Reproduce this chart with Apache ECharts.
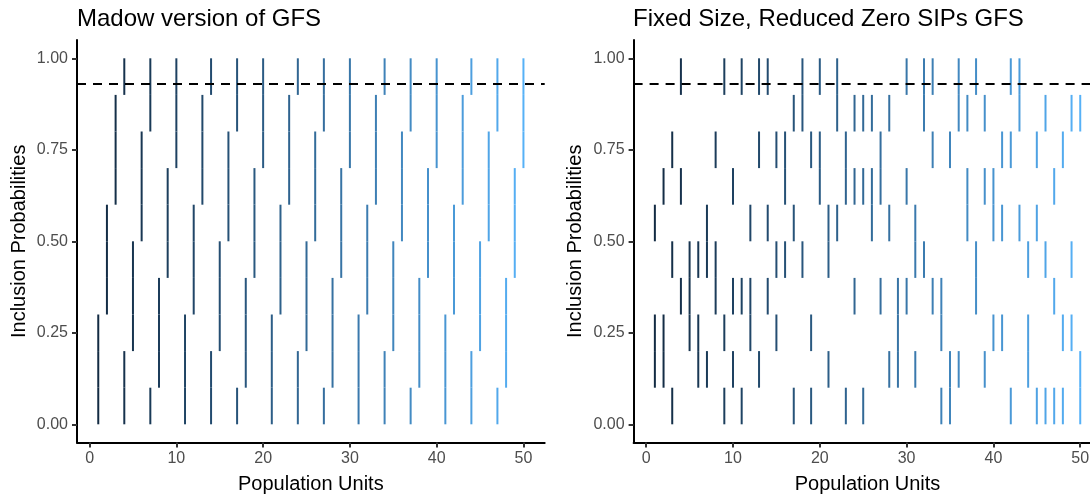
<!DOCTYPE html>
<html>
<head>
<meta charset="utf-8">
<script src="https://cdn.jsdelivr.net/npm/echarts@6/dist/echarts.min.js"></script>
<style>
  html, body { margin: 0; padding: 0; background: #ffffff; }
  #chart { width: 1090px; height: 494px; }
</style>
</head>
<body>
<div id="chart"></div>
<script>
// ---- Data ----
const panelTitles = ["Madow version of GFS", "Fixed Size, Reduced Zero SIPs GFS"];
const xTicks = [0, 10, 20, 30, 40, 50];
const yTicks = [0, 0.25, 0.5, 0.75, 1];
const bandEdges = [0, 0.1, 0.2, 0.3, 0.4, 0.5, 0.6, 0.7, 0.8, 0.9, 1.0];
const thresholdU = 0.929;

// Units covering each 0.1-wide band of [0,1] (band i = [bandEdges[i], bandEdges[i+1]])
const madowBands = [
  [1,4,7,11,14,17,21,24,27,31,34,37,41,44,47],
  [1,4,8,11,14,18,21,24,28,31,34,38,41,44,48],
  [1,5,8,11,15,18,21,25,28,31,35,38,41,45,48],
  [2,5,8,12,15,18,22,25,28,32,35,38,42,45,48],
  [2,5,9,12,15,19,22,25,29,32,35,39,42,45,49],
  [2,6,9,12,16,19,22,26,29,32,36,39,42,46,49],
  [3,6,9,13,16,19,23,26,29,33,36,39,43,46,49],
  [3,6,10,13,16,20,23,26,30,33,36,40,43,46,50],
  [3,7,10,13,17,20,23,27,30,33,37,40,43,47,50],
  [4,7,10,14,17,20,24,27,30,34,37,40,44,47,50]
];
const fixedBands = [
  [3,9,11,17,19,23,25,34,35,42,45,46,47,48,50],
  [1,2,6,7,10,13,21,28,29,31,35,36,39,44,50],
  [1,2,5,6,9,12,15,19,29,34,40,41,44,48,49],
  [4,5,8,10,11,12,14,24,27,29,30,33,34,38,47],
  [3,5,6,7,8,15,16,18,21,31,32,38,44,46,49],
  [1,7,12,14,17,21,22,26,28,31,37,40,41,43,45],
  [2,4,10,16,20,23,24,25,26,27,30,37,39,40,47],
  [3,8,13,15,16,19,20,23,27,33,35,41,42,45,48],
  [17,18,22,24,25,26,28,32,36,37,39,43,46,49,50],
  [4,9,11,13,14,18,20,22,30,32,33,36,38,42,43]
];
const unitMin = 1, unitMax = 50;

// ---- Colour scale (ggplot2 default continuous: Lab interpolation) ----
const lowCol = "#132B43", highCol = "#56B1F7";
function hex2rgb(h){ return [1,3,5].map(i => parseInt(h.substr(i,2),16)/255); }
function lin(c){ return c <= 0.04045 ? c/12.92 : Math.pow((c+0.055)/1.055, 2.4); }
function delin(c){ return c <= 0.0031308 ? 12.92*c : 1.055*Math.pow(c, 1/2.4) - 0.055; }
const WR = [0.95047, 1, 1.08883];
function rgb2lab(rgb){
  const [r,g,b] = rgb.map(lin);
  const X = (0.4124*r + 0.3576*g + 0.1805*b)/WR[0];
  const Y = (0.2126*r + 0.7152*g + 0.0722*b)/WR[1];
  const Z = (0.0193*r + 0.1192*g + 0.9505*b)/WR[2];
  const f = t => t > 0.008856 ? Math.cbrt(t) : 7.787*t + 16/116;
  const fx=f(X), fy=f(Y), fz=f(Z);
  return [116*fy-16, 500*(fx-fy), 200*(fy-fz)];
}
function lab2rgb(lab){
  const fy=(lab[0]+16)/116, fx=fy+lab[1]/500, fz=fy-lab[2]/200;
  const fi = t => t*t*t > 0.008856 ? t*t*t : (t-16/116)/7.787;
  const X=fi(fx)*WR[0], Y=fi(fy)*WR[1], Z=fi(fz)*WR[2];
  const r = 3.2406*X - 1.5372*Y - 0.4986*Z;
  const g = -0.9689*X + 1.8758*Y + 0.0415*Z;
  const b = 0.0557*X - 0.2040*Y + 1.0570*Z;
  return [r,g,b].map(c => Math.round(Math.min(1, Math.max(0, delin(c)))*255));
}
const labLow = rgb2lab(hex2rgb(lowCol)), labHigh = rgb2lab(hex2rgb(highCol));
function unitColor(k){
  const t = (k - unitMin) / (unitMax - unitMin);
  const lab = labLow.map((v,i) => v + (labHigh[i]-v)*t);
  const c = lab2rgb(lab);
  return 'rgb(' + c.join(',') + ')';
}

function toSegments(bands){
  const out = [];
  bands.forEach((units, i) => {
    units.forEach(u => out.push([u, bandEdges[i], bandEdges[i+1]]));
  });
  return out;
}

function renderSeg(params, api){
  const x = api.value(0), lo = api.value(1), hi = api.value(2);
  const p1 = api.coord([x, lo]), p2 = api.coord([x, hi]);
  return {
    type: 'line',
    shape: { x1: p1[0], y1: p1[1], x2: p2[0], y2: p2[1] },
    style: { stroke: unitColor(x), lineWidth: 2 }
  };
}

const FONT = '"Liberation Sans", Arial, Helvetica, sans-serif';

function makeX(gi){
  return {
    type: 'value', gridIndex: gi, min: -1.45, max: 52.45,
    name: 'Population Units', nameLocation: 'middle', nameGap: 32,
    nameTextStyle: { fontFamily: FONT, fontSize: 20, color: '#000000' },
    axisLine: { onZero: false, lineStyle: { color: '#000000', width: 2 } },
    axisTick: { show: true, length: 5, customValues: xTicks, lineStyle: { color: '#333333', width: 2 } },
    axisLabel: { customValues: xTicks, margin: 8, fontFamily: FONT, fontSize: 16, color: '#4D4D4D' },
    splitLine: { show: false }
  };
}
function makeY(gi){
  return {
    type: 'value', gridIndex: gi, min: -0.05, max: 1.05,
    name: 'Inclusion Probabilities', nameLocation: 'middle', nameGap: 48, nameRotate: 90,
    nameTextStyle: { fontFamily: FONT, fontSize: 20, color: '#000000' },
    axisLine: { onZero: false, lineStyle: { color: '#000000', width: 2 } },
    axisTick: { show: true, length: 5, customValues: yTicks, lineStyle: { color: '#333333', width: 2 } },
    axisLabel: { customValues: yTicks, margin: 9, fontFamily: FONT, fontSize: 16, color: '#4D4D4D',
                 formatter: v => v.toFixed(2) },
    splitLine: { show: false }
  };
}
function markLineFor(){
  return {
    silent: true, symbol: ['none','none'], label: { show: false },
    lineStyle: { color: '#000000', type: [9,7], width: 2 },
    data: [{ yAxis: thresholdU }]
  };
}

const option = {
  animation: false,
  backgroundColor: '#ffffff',
  title: [
    { text: panelTitles[0], left: 77, top: 7, padding: 0,
      textStyle: { fontFamily: FONT, fontSize: 24, fontWeight: 'normal', color: '#000000' } },
    { text: panelTitles[1], left: 633, top: 7, padding: 0,
      textStyle: { fontFamily: FONT, fontSize: 24, fontWeight: 'normal', color: '#000000' } }
  ],
  grid: [
    { left: 77, top: 40, width: 467.7, height: 402.6, containLabel: false, outerBoundsMode: 'none' },
    { left: 633.6, top: 40, width: 467.9, height: 402.6, containLabel: false, outerBoundsMode: 'none' }
  ],
  xAxis: [makeX(0), makeX(1)],
  yAxis: [makeY(0), makeY(1)],
  series: [
    { type: 'custom', xAxisIndex: 0, yAxisIndex: 0, renderItem: renderSeg,
      encode: { x: 0, y: [1, 2] }, data: toSegments(madowBands), markLine: markLineFor() },
    { type: 'custom', xAxisIndex: 1, yAxisIndex: 1, renderItem: renderSeg,
      encode: { x: 0, y: [1, 2] }, data: toSegments(fixedBands), markLine: markLineFor() }
  ]
};

const chart = echarts.init(document.getElementById('chart'), null, { renderer: 'canvas' });
chart.setOption(option);
</script>
</body>
</html>
